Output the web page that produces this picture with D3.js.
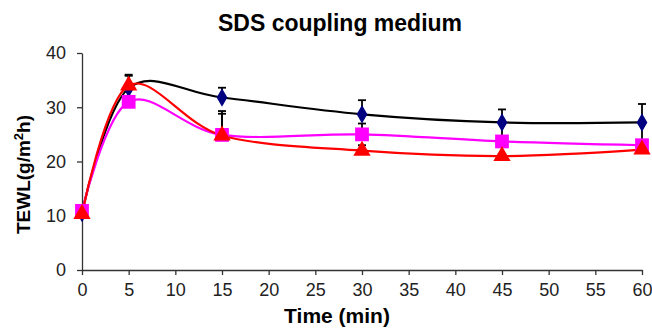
<!DOCTYPE html>
<html>
<head>
<meta charset="utf-8">
<script src="https://cdn.jsdelivr.net/npm/d3@7"></script>
<style>
  body { margin: 0; background: #fff; }
  text { font-family: "Liberation Sans", Arial, sans-serif; }
</style>
</head>
<body>
<div id="chart"></div>
<script>
const WIDTH  = 652;
const HEIGHT = 328;
const margin = { top: 53, right: 10, bottom: 58, left: 82 };

// Sampling times (min)
const times = [0, 5, 15, 30, 45, 60];

// TEWL values per series
const blackVals   = [10.5, 33.5, 31.8, 28.7, 27.2, 27.2];
const magentaVals = [10.9, 31.0, 24.9, 25.0, 23.7, 23.0];
const redVals     = [10.3, 34.0, 24.8, 22.0, 21.0, 22.2];

// Upper error bars (plus only)
const blackErr   = [0.5, 2.5, 1.8, 2.6, 2.4, 3.4];
const magentaErr = [0.5, 1.0, 3.9, 2.0, 3.5, 4.0];
const redErr     = [0.5, 1.8, 4.5, 1.0, 2.0, 1.0];

const xTicks = [0, 5, 10, 15, 20, 25, 30, 35, 40, 45, 50, 55, 60];
const yTicks = [0, 10, 20, 30, 40];

const series = [
  { name: "black",   vals: blackVals,   err: blackErr,   line: "#000000", fill: "#000080", shape: "diamond" },
  { name: "magenta", vals: magentaVals, err: magentaErr, line: "#ff00ff", fill: "#ff00ff", shape: "square" },
  { name: "red",     vals: redVals,     err: redErr,     line: "#ff0000", fill: "#ff0000", shape: "triangle" }
];

const svg = d3.select("#chart").append("svg")
  .attr("width", WIDTH)
  .attr("height", HEIGHT);

const x = d3.scaleLinear().domain([0, 60]).range([margin.left, WIDTH - margin.right]);
const y = d3.scaleLinear().domain([0, 40]).range([HEIGHT - margin.bottom, margin.top]);

// Axes
const xAxis = svg.append("g")
  .attr("transform", "translate(0," + y(0) + ")")
  .call(d3.axisBottom(x).tickValues(xTicks).tickSize(5).tickPadding(8).tickSizeOuter(0));
const yAxis = svg.append("g")
  .attr("transform", "translate(" + x(0) + ",0)")
  .call(d3.axisLeft(y).tickValues(yTicks).tickSize(5).tickPadding(11).tickSizeOuter(0));

[xAxis, yAxis].forEach(g => {
  g.select(".domain").attr("stroke", "#333").attr("stroke-width", 1.3);
  g.selectAll(".tick line").attr("stroke", "#333").attr("stroke-width", 1.3);
  g.selectAll(".tick text")
    .attr("fill", "#222")
    .style("font-size", "18px")
    .style("font-family", "'Liberation Sans', Arial, sans-serif");
});

// Smoothed lines (Excel style)
const line = d3.line()
  .x((d, i) => x(times[i]))
  .y(d => y(d))
  .curve(d3.curveCatmullRom.alpha(0));

series.forEach(s => {
  svg.append("path")
    .attr("d", line(s.vals))
    .attr("fill", "none")
    .attr("stroke", s.line)
    .attr("stroke-width", 2.2);
});

// Error bars
series.forEach(s => {
  const g = svg.append("g");
  s.vals.forEach((v, i) => {
    const cx = x(times[i]);
    g.append("line")
      .attr("x1", cx).attr("x2", cx)
      .attr("y1", y(v)).attr("y2", y(v + s.err[i]))
      .attr("stroke", "#000").attr("stroke-width", 1.8);
    g.append("line")
      .attr("x1", cx - 4).attr("x2", cx + 4)
      .attr("y1", y(v + s.err[i])).attr("y2", y(v + s.err[i]))
      .attr("stroke", "#000").attr("stroke-width", 1.8);
  });
});

// Markers
const symbols = { diamond: d3.symbolDiamond, square: d3.symbolSquare, triangle: d3.symbolTriangle };
const sizes   = { diamond: 100, square: 190, triangle: 130 };
series.forEach(s => {
  svg.append("g").selectAll("path")
    .data(s.vals)
    .enter().append("path")
      .attr("transform", (d, i) => "translate(" + x(times[i]) + "," + y(d) + ")")
      .attr("d", d3.symbol().type(symbols[s.shape]).size(sizes[s.shape]))
      .attr("fill", s.fill);
});

// Titles
svg.append("text")
  .attr("x", 340).attr("y", 31)
  .attr("text-anchor", "middle")
  .style("font-size", "23px").style("font-weight", "bold")
  .text("SDS coupling medium");

svg.append("text")
  .attr("x", 337).attr("y", 323)
  .attr("text-anchor", "middle")
  .style("font-size", "21px").style("font-weight", "bold")
  .text("Time (min)");

const yl = svg.append("text")
  .attr("transform", "translate(30," + ((y(0) + y(40)) / 2 + 13) + ") rotate(-90)")
  .attr("text-anchor", "middle")
  .style("font-size", "19px").style("font-weight", "bold");
yl.append("tspan").text("TEWL(g/m");
yl.append("tspan").attr("baseline-shift", "super").style("font-size", "13px").text("2");
yl.append("tspan").text("h)");
</script>
</body>
</html>
